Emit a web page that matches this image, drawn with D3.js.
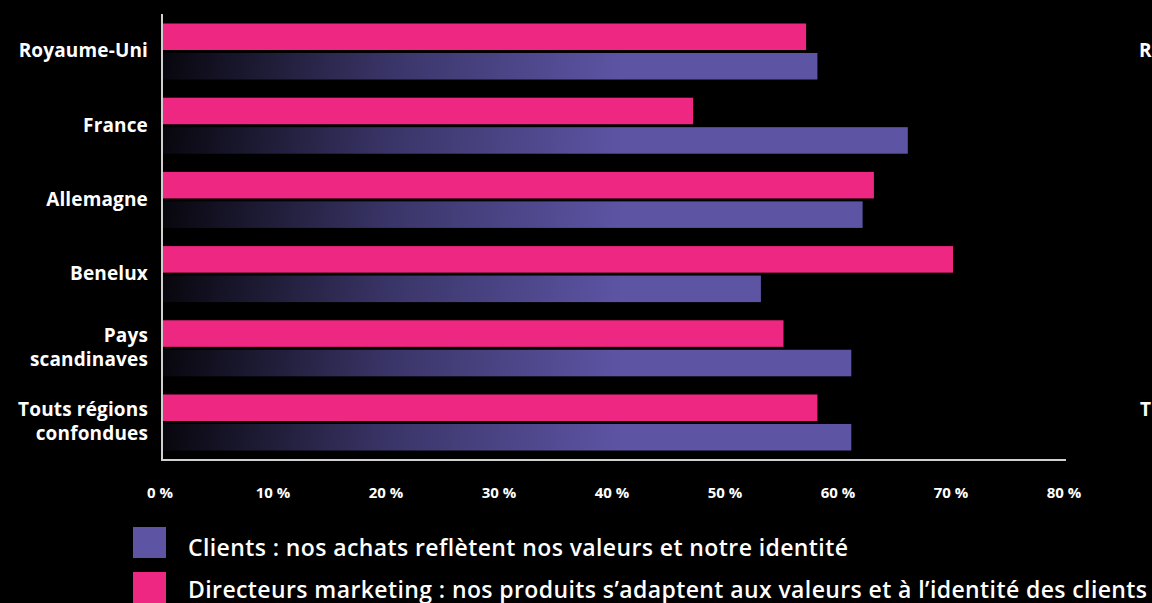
<!DOCTYPE html>
<html><head><meta charset="utf-8">
<script src="https://cdn.jsdelivr.net/npm/d3@7"></script>
<style>
html,body{margin:0;padding:0;background:#000;overflow:hidden;}
text{font-family:"Open Sans","Noto Sans",sans-serif;fill:#fff;}
</style></head>
<body>
<svg id="c" width="1152" height="603"></svg>
<script>
const categories = [["Royaume-Uni"],["France"],["Allemagne"],["Benelux"],["Pays","scandinaves"],["Touts régions","confondues"]];
const catKeys = categories.map(d=>d.join(" "));
const clients = [58,66,62,53,61,61];
const directeurs = [57,47,63,70,55,58];
const ticks = [0,10,20,30,40,50,60,70,80];
const legendLabels = ["Clients : nos achats reflètent nos valeurs et notre identité",
  "Directeurs marketing : nos produits s’adaptent aux valeurs et à l’identité des clients"];
const edgeLabels = ["R","T"]; // visible fragments of a neighbouring chart at the right edge

const svg = d3.select("#c");
const pink = "#ee2882", purple = "#5d54a4";
const x = d3.scaleLinear().domain([0,80]).range([162,1066]);
const y = d3.scaleBand().domain(catKeys).range([14,460]).paddingInner(0.245).paddingOuter(0.128);
const sub = d3.scaleBand().domain(["d","c"]).range([0,y.bandwidth()]).paddingInner(0.1);

const defs = svg.append("defs");
const g = defs.append("linearGradient").attr("id","grad").attr("gradientUnits","userSpaceOnUse")
  .attr("x1",165).attr("y1",0).attr("x2",620).attr("y2",60);
g.append("stop").attr("offset",0).attr("stop-color","#07060c");
g.append("stop").attr("offset",0.5).attr("stop-color","#3a3568");
g.append("stop").attr("offset",1).attr("stop-color",purple);

const rows = svg.append("g").selectAll("g").data(catKeys).join("g")
  .attr("transform",d=>`translate(0,${y(d)})`);
rows.append("rect").attr("x",x(0)+1).attr("y",sub("d"))
  .attr("width",(d,i)=>x(directeurs[i])-x(0)-1).attr("height",sub.bandwidth()).attr("fill",pink);
rows.append("rect").attr("x",x(0)+1).attr("y",sub("c"))
  .attr("width",(d,i)=>x(clients[i])-x(0)-1).attr("height",sub.bandwidth())
  .attr("fill","url(#grad)");

// axes lines
svg.append("line").attr("x1",x(0)).attr("x2",x(0)).attr("y1",14).attr("y2",461).attr("stroke","#d0d0d0").attr("stroke-width",2);
svg.append("line").attr("x1",x(0)).attr("x2",x(80)).attr("y1",460).attr("y2",460).attr("stroke","#d0d0d0").attr("stroke-width",2);

// category labels
rows.each(function(d,i){
  const lines = categories[i];
  const cy = y.bandwidth()/2;
  const lh = 24;
  lines.forEach((l,j)=>{
    d3.select(this).append("text").attr("text-anchor","end").attr("x",148)
      .attr("font-size",19).attr("font-weight",700).attr("letter-spacing",0.15)
      .attr("y",cy + (j-(lines.length-1)/2)*lh + 6).text(l);
  });
});

// x tick labels
svg.append("g").selectAll("text").data(ticks).join("text")
  .attr("x",d=>x(d)-2).attr("y",498).attr("text-anchor","middle")
  .attr("font-size",15).attr("font-weight",700).text(d=>d+" %");

// legend
const lg = svg.append("g");
[purple,pink].forEach((c,i)=>{
  lg.append("rect").attr("x",133).attr("y",527+i*45).attr("width",33).attr("height",31).attr("fill",c);
  lg.append("text").attr("x",188).attr("y",556+i*42).attr("font-size",23).attr("font-weight",600)
    .attr("letter-spacing",0.4).text(legendLabels[i]);
});

// fragments of neighbouring chart
svg.append("text").attr("x",1139).attr("y",57).attr("font-size",19).attr("font-weight",700).text(edgeLabels[0]);
svg.append("text").attr("x",1140).attr("y",416).attr("font-size",19).attr("font-weight",700).text(edgeLabels[1]);
</script>
</body></html>
